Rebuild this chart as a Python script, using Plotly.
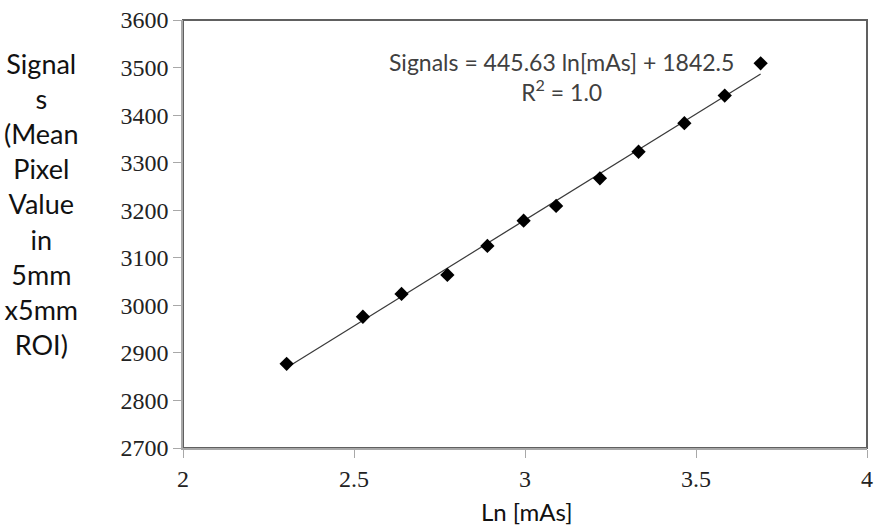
import plotly.graph_objects as go

# Data
ln_mas = [2.303, 2.526, 2.639, 2.773, 2.890, 2.996, 3.091, 3.219, 3.332, 3.466, 3.584, 3.689]
signals = [2877, 2976, 3024, 3064, 3125, 3178, 3209, 3267, 3323, 3383, 3441, 3509]

# Trendline coefficients as printed on the chart
slope = 445.63
intercept = 1842.5
trend_x = [min(ln_mas), max(ln_mas)]
trend_y = [slope * v + intercept for v in trend_x]

x_ticks = [2, 2.5, 3, 3.5, 4]
y_ticks = [2700, 2800, 2900, 3000, 3100, 3200, 3300, 3400, 3500, 3600]

fig = go.Figure()
fig.add_trace(go.Scatter(
    x=trend_x, y=trend_y, mode="lines",
    line=dict(color="#3a3a3a", width=1.2), showlegend=False, hoverinfo="skip"))
fig.add_trace(go.Scatter(
    x=ln_mas, y=signals, mode="markers",
    marker=dict(symbol="diamond", size=11, color="black"), showlegend=False))

tick_font = dict(family="Liberation Serif", size=24, color="#222222")

fig.update_layout(
    width=878, height=527,
    margin=dict(l=183, r=5, t=20, b=79),
    paper_bgcolor="white", plot_bgcolor="white",
    xaxis=dict(range=[2, 4], tickvals=x_ticks, showgrid=False, zeroline=False,
               showline=True, linecolor="#a8a8a8", linewidth=1.5,
               ticks="outside", ticklen=8, tickcolor="#a8a8a8", tickwidth=1.2,
               tickfont=tick_font, ticklabeloverflow="allow"),
    yaxis=dict(range=[2700, 3600], tickvals=y_ticks, showgrid=False, zeroline=False,
               showline=True, linecolor="#a8a8a8", linewidth=1.5,
               ticks="outside", ticklen=8, tickcolor="#a8a8a8", tickwidth=1.2,
               tickfont=tick_font),
    shapes=[dict(type="rect", xref="paper", yref="paper", x0=0, y0=0, x1=1, y1=1,
                 line=dict(color="#606060", width=2), layer="below")],
    annotations=[
        dict(text="Signal<br>s<br>(Mean<br>Pixel<br>Value<br>in<br>5mm<br>x5mm<br>ROI)",
             xref="paper", yref="paper", x=-0.207, y=0.571, xanchor="center", yanchor="middle",
             showarrow=False, align="center",
             font=dict(family="Lato", size=27, color="#111111")),
        dict(text="Ln [mAs]", xref="paper", yref="paper", x=0.503, y=-0.148,
             xanchor="center", yanchor="middle", showarrow=False,
             font=dict(family="Lato", size=24, color="#111111")),
        dict(text="Signals = 445.63 ln[mAs] + 1842.5<br>R<sup>2</sup> = 1.0",
             xref="paper", yref="paper", x=0.5536, y=0.8657, xanchor="center", yanchor="middle",
             showarrow=False, align="center",
             font=dict(family="Lato", size=23, color="#404040")),
    ],
)

fig.write_html("out.html")
